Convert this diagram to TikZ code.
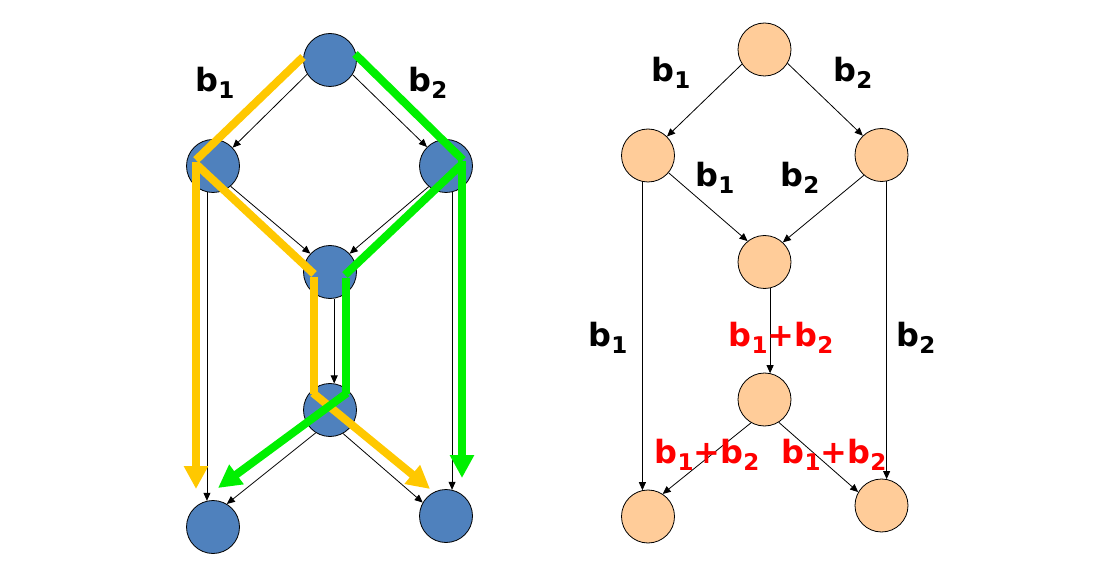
\documentclass[tikz,border=0pt]{standalone}
\usepackage{fontspec}
\setmainfont{DejaVu Sans}
\usetikzlibrary{arrows.meta}
\definecolor{nodeblue}{HTML}{4F81BD}
\definecolor{peach}{HTML}{FFCC99}
\definecolor{pathyellow}{HTML}{FFC800}
\definecolor{pathgreen}{HTML}{00F000}
\newcommand\bsub[1]{b\raisebox{-7pt}{\fontsize{23}{23}\selectfont #1}}
\tikzset{
  bnode/.style={circle, draw=black, line width=0.8pt, fill=nodeblue, minimum size=53pt, inner sep=0pt},
  pnode/.style={circle, draw=black, line width=0.8pt, fill=peach, minimum size=53pt, inner sep=0pt},
  edgearrow/.style={line width=0.8pt, -{Triangle[length=8pt,width=7pt]}},
  lbl/.style={font=\fontsize{32}{32}\bfseries\selectfont, inner sep=0pt},
  redlbl/.style={lbl, text=red},
  hy/.style={line width=8pt, draw=pathyellow},
  hg/.style={line width=8pt, draw=pathgreen},
  bigtip/.style={-{Triangle[length=23pt,width=23pt]}}
}
\begin{document}
\begin{tikzpicture}[x=1pt,y=-1pt]
\useasboundingbox (0,0) rectangle (1104,588);
% ---------- left graph ----------
\node[bnode] (lt) at (330,60) {};
\node[bnode] (ll) at (213,166) {};
\node[bnode] (lr) at (446,166) {};
\node[bnode] (lc) at (330,272) {};
\node[bnode] (ld) at (330,410) {};
\node[bnode] (lbl1) at (213,527) {};
\node[bnode] (lbr) at (446,516) {};
\draw[edgearrow] (lt.212) -- (ll.43);
\draw[edgearrow] (lt.327) -- (lr.135);
\draw[edgearrow] (ll.311) -- (lc.137);
\draw[edgearrow] (lr.230) -- (lc.43);
\draw[edgearrow] (lc.279) -- (ld.81);
\draw[edgearrow] (ll.257) -- (lbl1.103);
\draw[edgearrow] (lr.283) -- (lbr.77);
\draw[edgearrow] (ld.238) -- (lbl1.59);
\draw[edgearrow] (ld.299) -- (lbr.150);
% highlight coordinates
\coordinate (y0) at (303,57);
\coordinate (y1) at (196,160);
\coordinate (y2) at (196,162);
\coordinate (y3) at (196,489);
\coordinate (y4) at (197,165);
\coordinate (y5) at (314,274);
\coordinate (y6) at (313.5,277);
\coordinate (y7) at (313.5,394);
\coordinate (y8) at (313,393);
\coordinate (y9) at (430,489);
\coordinate (g0) at (355,54);
\coordinate (g1) at (463,160);
\coordinate (g2) at (462,161);
\coordinate (g3) at (462,478);
\coordinate (g4) at (461,165);
\coordinate (g5) at (345,275);
\coordinate (g6) at (345.5,278);
\coordinate (g7) at (345.5,394);
\coordinate (g8) at (347,393);
\coordinate (g9) at (218,488);
% yellow path
\draw[hy] (y0) -- (y1);
\draw[hy, bigtip] (y2) -- (y3);
\draw[hy] (y4) -- (y5);
\draw[hy] (y6) -- (y7);
\draw[hy, bigtip] (y8) -- (y9);
% green path
\draw[hg] (g0) -- (g1);
\draw[hg, bigtip] (g2) -- (g3);
\draw[hg] (g4) -- (g5);
\draw[hg] (g6) -- (g7);
\draw[hg, bigtip] (g8) -- (g9);
\node[lbl] (tl1) at (215,83) {\bsub{1}};
\node[lbl] (tl2) at (428,83) {\bsub{2}};
% ---------- right graph ----------
\node[pnode] (rt) at (764.5,49.5) {};
\node[pnode] (rl) at (648,155.5) {};
\node[pnode] (rr) at (881.5,155) {};
\node[pnode] (rc) at (764.5,262) {};
\node[pnode] (rd) at (764.5,399.5) {};
\node[pnode] (rbl) at (648,516.5) {};
\node[pnode] (rbr) at (881.5,505.5) {};
\draw[edgearrow] (rt.213) -- (rl.45);
\draw[edgearrow] (rt.329) -- (rr.134);
\draw[edgearrow] (rl.320) -- (rc.129);
\draw[edgearrow] (rr.229) -- (rc.47);
\draw[edgearrow] (rl.258) -- (rbl.102);
\draw[edgearrow] (rr.281) -- (rbr.79);
\draw[edgearrow] (rc.282) -- (rd.78);
\draw[edgearrow] (rd.240) -- (rbl.57);
\draw[edgearrow] (rd.302) -- (rbr.150);
\node[lbl] (r1) at (671,73) {\bsub{1}};
\node[lbl] (r2) at (853,73) {\bsub{2}};
\node[lbl] (r3) at (715,178) {\bsub{1}};
\node[lbl] (r4) at (800,178) {\bsub{2}};
\node[lbl] (r5) at (608,338) {\bsub{1}};
\node[redlbl] (r6) at (781,338) {\bsub{1}+\bsub{2}};
\node[lbl] (r7) at (916,338) {\bsub{2}};
\node[redlbl] (r8) at (707,455) {\bsub{1}+\bsub{2}};
\node[redlbl] (r9) at (834,455) {\bsub{1}+\bsub{2}};
\end{tikzpicture}
\end{document}
